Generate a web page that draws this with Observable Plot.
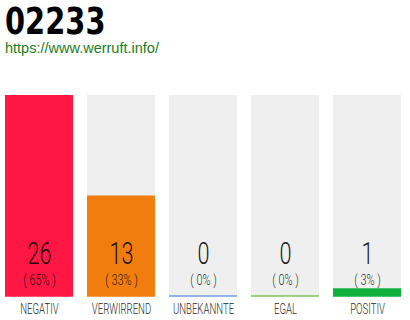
<!DOCTYPE html>
<html>
<head>
<meta charset="utf-8">
<script src="https://cdn.jsdelivr.net/npm/d3@7"></script>
<script src="https://cdn.jsdelivr.net/npm/@observablehq/plot@0.6"></script>
<style>
  body { margin: 0; background: #fff; }
  #wrap { width: 410px; }
  #head { position: relative; height: 80px; }
  #title {
    position: absolute; left: 5px; top: 4px;
    font-family: "DejaVu Sans", sans-serif; font-weight: bold;
    font-size: 38px; line-height: 34px; color: #000;
    transform: scaleX(0.76); transform-origin: left top; white-space: nowrap;
  }
  #sub {
    position: absolute; left: 5px; top: 41px;
    font-family: "Liberation Sans", Arial, sans-serif;
    font-size: 14.5px; line-height: 14.5px; color: #1b7d1b; white-space: nowrap;
  }
  svg { display: block; }
</style>
</head>
<body>
<div id="wrap">
  <div id="head">
    <div id="title">02233</div>
    <div id="sub">https://www.werruft.info/</div>
  </div>
  <div id="chart"></div>
</div>
<script>
const categories = ["NEGATIV", "VERWIRREND", "UNBEKANNTE", "EGAL", "POSITIV"];
const counts = [26, 13, 0, 0, 1];
const shares = [65, 33, 0, 0, 3];
const colors = ["#ff1744", "#f07d0d", "#6c9de6", "#7dc45b", "#10b03e"];

const rows = categories.map((cat, i) => ({cat, n: counts[i], pct: shares[i], color: colors[i]}));
const full = d3.max(counts);

const chart = Plot.plot({
  width: 410,
  height: 240,
  marginTop: 15,
  marginBottom: 24,
  marginLeft: 5,
  marginRight: 9,
  style: {fontFamily: "Roboto, sans-serif", background: "#fff"},
  x: {domain: categories, paddingInner: 14 / 82, paddingOuter: 0, axis: null},
  y: {domain: [0, full], axis: null},
  color: {type: "identity"},
  marks: [
    // grey column behind each bar
    Plot.barY(rows, {x: "cat", y1: 0, y2: d => full, fill: "#efefef"}),
    // baseline stroke, visible where the count is zero
    Plot.tickY(rows, {x: "cat", y: 0, stroke: d => d.color, strokeWidth: 1.5, dy: -0.5}),
    Plot.barY(rows, {x: "cat", y: "n", fill: d => d.color}),
    Plot.text(rows, {x: "cat", frameAnchor: "bottom", lineAnchor: "bottom", dy: -33,
      text: d => String(d.n), fontSize: 31, fontWeight: 300, fill: "#000", fillOpacity: 0.9}),
    Plot.text(rows, {x: "cat", frameAnchor: "bottom", lineAnchor: "bottom", dy: -12,
      text: d => `( ${d.pct}% )`, fontSize: 14, fontWeight: 300, fill: "#000", fillOpacity: 0.88}),
    Plot.text(rows, {x: "cat", frameAnchor: "bottom", lineAnchor: "bottom", dy: 17,
      text: "cat", fontSize: 15.5, fontWeight: 300, fill: "#2a2a2a"})
  ]
});

// narrow the text horizontally for a condensed look
const squeeze = [0.7, 0.78, 0.62];
chart.querySelectorAll('g[aria-label="text"]').forEach((g, k) => {
  g.querySelectorAll("text").forEach(t => {
    t.setAttribute("transform", (t.getAttribute("transform") || "") + ` scale(${squeeze[k]},1)`);
  });
});

document.getElementById("chart").appendChild(chart);
</script>
</body>
</html>
